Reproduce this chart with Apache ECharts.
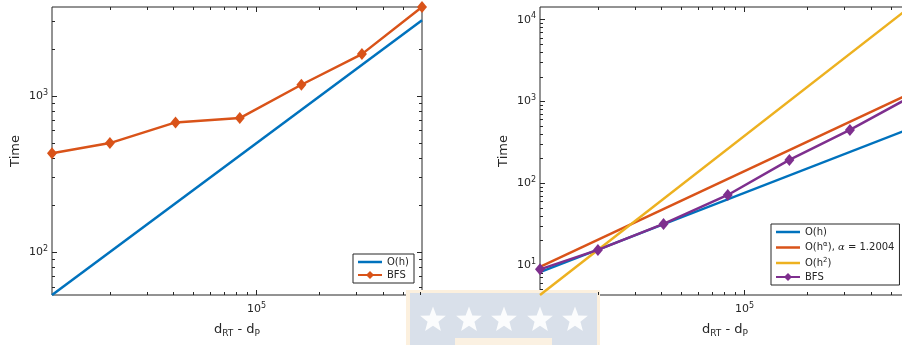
<!DOCTYPE html>
<html><head><meta charset="utf-8">
<script src="https://cdn.jsdelivr.net/npm/echarts@6/dist/echarts.min.js"></script>
<style>html,body{margin:0;padding:0;background:#fff}#c{width:902px;height:345px}</style>
</head><body><div id="c"></div><script>
// ---- data ----
const xVals = [10590, 20000, 41100, 83200, 163600, 318000, 615000];
const leftBFS = [431, 500, 678, 723, 1182, 1857, 3720];
const refLineX = [10590, 615000];
const leftOh = [53.2, 3055];
const rightBFS = [8.85, 15.3, 31.8, 71.9, 193, 449, 1130];
const rightOh = [8.2, 465];
const rightOhAlpha = [9.5, 1250];
const rightOh2 = [4.3, 14300];
const xMajorTicks = [1e5];
const xMinorTicks = [2e4, 3e4, 4e4, 5e4, 6e4, 7e4, 8e4, 9e4, 2e5, 3e5, 4e5, 5e5, 6e5];
const leftYMajor = [100, 1000];
const leftYMinor = [60, 70, 80, 90, 200, 300, 400, 500, 600, 700, 800, 900, 2000, 3000];
const rightYMajor = [10, 100, 1000, 10000];
const rightYMinor = [5, 6, 7, 8, 9, 20, 30, 40, 50, 60, 70, 80, 90, 200, 300, 400, 500, 600, 700, 800, 900, 2000, 3000, 4000, 5000, 6000, 7000, 8000, 9000];
const legendNames = {
  L_Oh: 'O(h)', L_BFS: 'BFS',
  R_Oh: 'O(h)', R_Oha: 'O(h{sup|α}), {it|α} = 1.2004', R_Oh2: 'O(h{sup|2})', R_BFS: 'BFS'
};

const FONT = 'DejaVu Sans';
const INK = '#262626';
const C = {blue: '#0072BD', orange: '#D95319', yellow: '#EDB120', purple: '#7E2F8E'};
const X_MIN = 10590, X_MAX = 615000;
const LW = 2.5;
const LINE_ICON = 'path://M0,0H48V5H0Z';

function logFmt(v) { const e = Math.round(Math.log10(v)); return '10{sup|' + e + '}'; }
const tickRich = { sup: { fontSize: 8, padding: [0, 0, 7, 0], fontFamily: FONT, color: INK } };
const zip = (xs, ys) => xs.map((x, i) => [x, ys[i]]);

function makeAxes(dim, gi, min, max, major, minor, name, nameGap) {
  const base = { type: 'log', logBase: 10, gridIndex: gi, min, max, splitLine: { show: false }, axisLine: { show: false }, minorTick: { show: false } };
  const p1 = dim === 'x' ? 'bottom' : 'left';
  const p2 = dim === 'x' ? 'top' : 'right';
  const tk = (vals, len) => ({ show: true, inside: true, length: len, customValues: vals, lineStyle: { color: INK, width: 1 } });
  const nameRich = { sub: { fontSize: 9, padding: [8, 0, 0, 0], fontFamily: FONT, color: INK } };
  return [
    Object.assign({}, base, {
      position: p1, axisTick: tk(major, 5),
      axisLabel: { show: true, customValues: major, formatter: logFmt, margin: dim === 'x' ? 7 : 4, fontSize: 11, color: INK, fontFamily: FONT, rich: tickRich },
      name, nameLocation: 'middle', nameGap,
      nameTextStyle: { fontSize: 13, color: INK, fontFamily: FONT, rich: nameRich }
    }),
    Object.assign({}, base, { position: p1, axisTick: tk(minor, 3), axisLabel: { show: false } }),
    Object.assign({}, base, { position: p2, axisTick: tk(major, 5), axisLabel: { show: false } }),
    Object.assign({}, base, { position: p2, axisTick: tk(minor, 3), axisLabel: { show: false } })
  ];
}

// star polygon for the watermark decoration
function star(cx, cy, R, r) {
  const pts = [];
  for (let i = 0; i < 10; i++) {
    const a = -Math.PI / 2 + i * Math.PI / 5;
    const rr = i % 2 ? r : R;
    pts.push([cx + rr * Math.cos(a), cy + rr * Math.sin(a)]);
  }
  return { type: 'polygon', shape: { points: pts }, style: { fill: '#fbfcfd' } };
}
const wm = [
  { type: 'rect', shape: { x: 406, y: 290, width: 194, height: 60 }, style: { fill: '#fcf0de' } },
  { type: 'rect', shape: { x: 410, y: 293, width: 187, height: 52 }, style: { fill: '#d9e0ea' } },
  { type: 'rect', shape: { x: 455, y: 338, width: 97, height: 10 }, style: { fill: '#fbf1e2' } }
];
[433, 469, 504, 540, 575].forEach(cx => wm.push(star(cx, 320, 13.5, 5.7)));

const chart = echarts.init(document.getElementById('c'), null, { renderer: 'canvas' });
const legendBase = {
  orient: 'vertical', itemWidth: 24, itemHeight: 10, borderColor: INK, borderWidth: 1,
  backgroundColor: '#fff', borderRadius: 0, symbolKeepAspect: true,
  formatter: n => legendNames[n],
  textStyle: { fontSize: 10, color: INK, fontFamily: FONT,
    rich: { sup: { fontSize: 7, padding: [0, 0, 6, 0], fontFamily: FONT, color: INK },
            it: { fontSize: 10, fontStyle: 'italic', fontFamily: 'DejaVu Serif', color: INK } } }
};
chart.setOption({
  animation: false,
  backgroundColor: '#fff',
  graphic: { z: -5, elements: wm },
  grid: [
    { left: 52, right: 480, top: 7, bottom: 50, show: true, backgroundColor: '#fff', borderColor: INK, borderWidth: 1, outerBoundsMode: 'none', containLabel: false },
    { left: 540, right: -8, top: 7, bottom: 50, show: true, backgroundColor: '#fff', borderColor: INK, borderWidth: 1, outerBoundsMode: 'none', containLabel: false }
  ],
  xAxis: [
    ...makeAxes('x', 0, X_MIN, X_MAX, xMajorTicks, xMinorTicks, 'd{sub|RT} - d{sub|P}', 26),
    ...makeAxes('x', 1, X_MIN, X_MAX, xMajorTicks, xMinorTicks, 'd{sub|RT} - d{sub|P}', 26)
  ],
  yAxis: [
    ...makeAxes('y', 0, 53.2, 3720, leftYMajor, leftYMinor, 'Time', 30),
    ...makeAxes('y', 1, 4.3, 14300, rightYMajor, rightYMinor, 'Time', 30)
  ],
  legend: [
    Object.assign({}, legendBase, { left: 353, top: 254, itemGap: 3, padding: [3, 5, 3, 4],
      data: [{ name: 'L_Oh', icon: LINE_ICON }, 'L_BFS'] }),
    Object.assign({}, legendBase, { left: 771, top: 224, itemGap: 4, padding: [3, 5, 3, 4],
      data: [{ name: 'R_Oh', icon: LINE_ICON }, { name: 'R_Oha', icon: LINE_ICON }, { name: 'R_Oh2', icon: LINE_ICON }, 'R_BFS'] })
  ],
  series: [
    { name: 'L_Oh', type: 'line', xAxisIndex: 0, yAxisIndex: 0, data: zip(refLineX, leftOh), symbol: 'none',
      lineStyle: { color: C.blue, width: LW }, itemStyle: { color: C.blue }, z: 2 },
    { name: 'L_BFS', type: 'line', xAxisIndex: 0, yAxisIndex: 0, data: zip(xVals, leftBFS), symbol: 'diamond', symbolSize: [10, 12],
      lineStyle: { color: C.orange, width: LW }, itemStyle: { color: C.orange }, z: 3 },
    { name: 'R_Oh', type: 'line', xAxisIndex: 4, yAxisIndex: 4, data: zip(refLineX, rightOh), symbol: 'none',
      lineStyle: { color: C.blue, width: LW }, itemStyle: { color: C.blue }, z: 2 },
    { name: 'R_Oha', type: 'line', xAxisIndex: 4, yAxisIndex: 4, data: zip(refLineX, rightOhAlpha), symbol: 'none',
      lineStyle: { color: C.orange, width: LW }, itemStyle: { color: C.orange }, z: 2 },
    { name: 'R_Oh2', type: 'line', xAxisIndex: 4, yAxisIndex: 4, data: zip(refLineX, rightOh2), symbol: 'none',
      lineStyle: { color: C.yellow, width: LW }, itemStyle: { color: C.yellow }, z: 2 },
    { name: 'R_BFS', type: 'line', xAxisIndex: 4, yAxisIndex: 4, data: zip(xVals, rightBFS), symbol: 'diamond', symbolSize: [10, 12],
      lineStyle: { color: C.purple, width: LW }, itemStyle: { color: C.purple }, z: 3 }
  ]
});
</script></body></html>
